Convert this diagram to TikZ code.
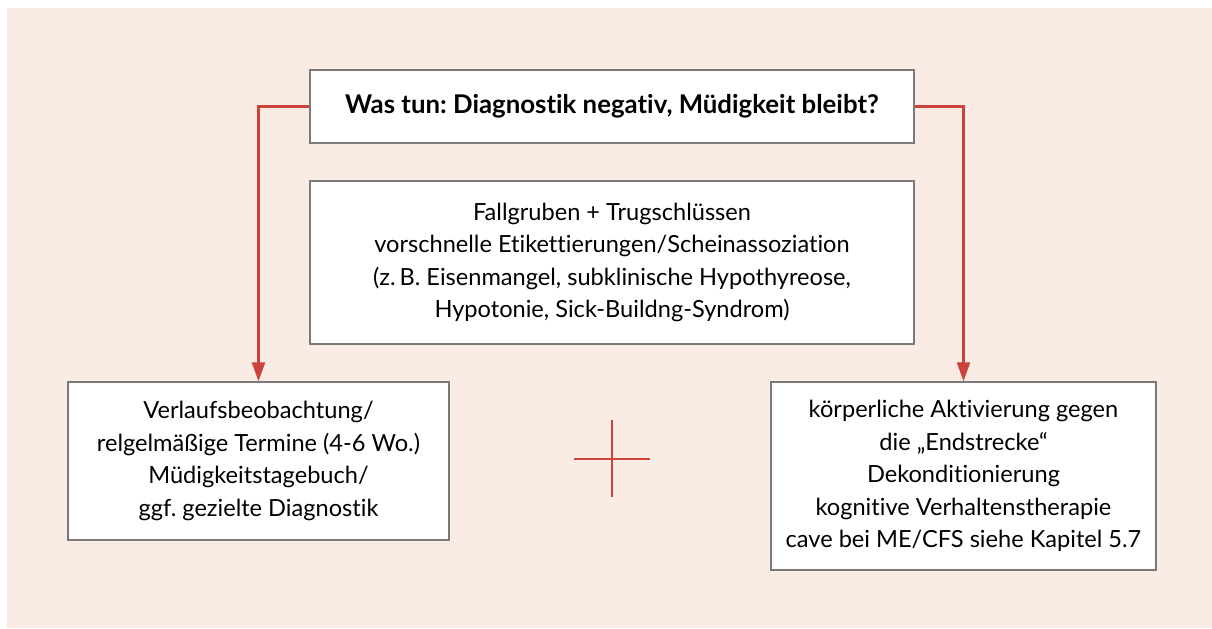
\documentclass[tikz,border=0pt]{standalone}
\usepackage{fontspec}
\setmainfont{Lato}[Ligatures=CommonOff]
\usetikzlibrary{arrows.meta}

\definecolor{bgbeige}{HTML}{FAECE4}
\definecolor{arrred}{HTML}{CC433B}
\definecolor{boxgray}{HTML}{7A7A7A}
\frenchspacing

\begin{document}
\begin{tikzpicture}[x=0.5pt, y=-0.5pt,
  box/.style = {draw=boxgray, line width=0.75pt, fill=white, align=center,
                font=\fontsize{11.8}{16.25}\selectfont, inner sep=0pt},
  link/.style = {draw=arrred, line width=1.2pt,
                 -{Triangle[length=9.5pt, width=6.5pt]}}]

\useasboundingbox (0,0) rectangle (1212,628);
\fill[bgbeige] (7,8) rectangle (1212,628);

\node[box, minimum width=302pt, minimum height=36.5pt, font=\fontsize{12.9}{16.25}\selectfont\bfseries]
  (title) at (612,106.5) {Was tun: Diagnostik negativ, Müdigkeit bleibt?};
\node[box, minimum width=302pt, minimum height=81.5pt]
  (pitfalls) at (612,262.5) {Fallgruben + Trugschlüssen\\
  vorschnelle Etikettierungen/Scheinassoziation\\
  (z.\,B. Eisenmangel, subklinische Hypothyreose,\\
  Hypotonie, Sick-Buildng-Syndrom)};
\node[box, minimum width=190.5pt, minimum height=79pt]
  (watch) at (258.5,461) {Verlaufsbeobachtung/\\
  relgelmäßige Termine (4-6 Wo.)\\
  Müdigkeitstagebuch/\\
  ggf. gezielte Diagnostik};
\node[box, minimum width=192.5pt, minimum height=94pt]
  (activate) at (963.5,476) {körperliche Aktivierung gegen\\
  die „Endstrecke“\\
  Dekonditionierung\\
  kognitive Verhaltenstherapie\\
  cave bei ME/CFS siehe Kapitel 5.7};

\draw[link] (title.west) -| (watch.north);
\draw[link] (title.east) -| (activate.north);

% plus sign between the two boxes
\draw[arrred, line width=1.3pt] (574,459) -- (650,459);
\draw[arrred, line width=1.3pt] (612,420) -- (612,497);

\end{tikzpicture}
\end{document}
